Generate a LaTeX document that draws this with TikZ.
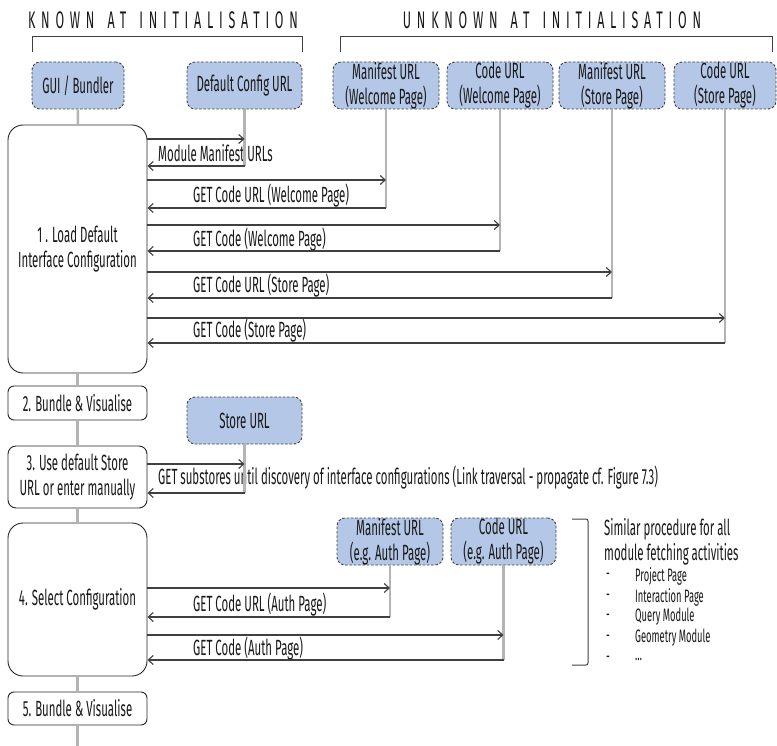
\documentclass[tikz,border=0pt]{standalone}
\usepackage{fontspec}
\setmainfont{Fira Sans}[FakeStretch=0.52]
\usetikzlibrary{arrows.meta}

\definecolor{ink}{HTML}{404040}
\definecolor{lifegray}{HTML}{B4B4B4}
\definecolor{urlfill}{HTML}{B4C7E7}

\tikzset{
  base/.style={font=\fontsize{22}{25}\selectfont, text=black!90, inner sep=0pt},
  title/.style={font=\fontsize{24}{26}\selectfont\addfontfeature{LetterSpace=24}, text=black!90, inner sep=0pt},
  urlbox/.style={base, draw=ink, line width=0.9pt, dash pattern=on 2.5pt off 1.8pt,
    fill=urlfill, rounded corners=8pt, align=center, minimum height=47pt},
  stepbox/.style={base, draw=black!85, line width=0.9pt, fill=white,
    align=center, minimum width=139pt},
  lifeline/.style={draw=lifegray, line width=2.5pt},
  msg/.style={draw=ink, line width=1.1pt, -{Straight Barb[length=5pt,width=9pt,line width=1.1pt]}},
  brk/.style={draw=ink, line width=1pt},
  lbl/.style={base, anchor=west},
  small/.style={font=\fontsize{18}{20}\selectfont, text=black!90, inner sep=0pt, anchor=west},
}

\begin{document}
\begin{tikzpicture}[x=1pt,y=-1pt]
\useasboundingbox (0,0) rectangle (777,746);

% headings and their brackets
\node[title] (known) at (163,20) {KNOWN\hspace{4pt} AT\hspace{4pt} INITIALISATION};
\node[title] (unknown) at (552,20) {UNKNOWN\hspace{4pt} AT\hspace{4pt} INITIALISATION};
\draw[brk] (32,52) -- (32,37) -- (302,37) -- (302,52);
\draw[brk] (340,52) -- (340,37) -- (772,37) -- (772,52);

% participants
\node[urlbox, minimum width=92pt]  (gui)  at (78,85.5)    {GUI / Bundler};
\node[urlbox, minimum width=115pt] (dcfg) at (244.5,85.5) {Default Config URL};
\node[urlbox, minimum width=106pt] (mw)   at (386,85.5)   {Manifest URL\\(Welcome Page)};
\node[urlbox, minimum width=106pt] (cw)   at (500,85.5)   {Code URL\\(Welcome Page)};
\node[urlbox, minimum width=106pt] (ms)   at (612,85.5)   {Manifest URL\\(Store Page)};
\node[urlbox, minimum width=102pt] (cs)   at (725,85.5)   {Code URL\\(Store Page)};
\node[urlbox, minimum width=115pt] (store) at (244.5,420.5) {Store URL};
\node[urlbox, minimum width=106pt] (ma)   at (390,541.5)  {Manifest URL\\(e.g. Auth Page)};
\node[urlbox, minimum width=105pt] (ca)   at (503.5,541.5) {Code URL\\(e.g. Auth Page)};

% process steps
\node[stepbox, minimum height=248pt, rounded corners=15pt] (s1) at (77.5,249)
  {1 . Load Default\\Interface Configuration};
\node[stepbox, minimum height=34pt, rounded corners=6pt] (s2) at (77.5,403) {2. Bundle \& Visualise};
\node[stepbox, minimum height=62pt, rounded corners=8pt] (s3) at (77.5,477)
  {3. Use default Store\\URL or enter manually};
\node[stepbox, minimum height=153pt, rounded corners=15pt] (s4) at (77.5,599.5) {4. Select Configuration};
\node[stepbox, minimum height=33pt, rounded corners=6pt] (s5) at (77.5,708.5) {5. Bundle \& Visualise};

% message labels
\node[lbl] (l0) at (158,153) {Module Manifest URLs};
\node[lbl] (l1) at (193,196) {GET Code URL (Welcome Page)};
\node[lbl] (l2) at (193,240) {GET Code (Welcome Page)};
\node[lbl] (l3) at (193,286) {GET Code URL (Store Page)};
\node[lbl] (l4) at (193,331) {GET Code (Store Page)};
\node[lbl] (l5) at (158,478) {GET substores until discovery of interface configurations (Link traversal - propagate cf. Figure 7.3)};
\node[lbl] (l6) at (193,605) {GET Code URL (Auth Page)};
\node[lbl] (l7) at (193,649) {GET Code (Auth Page)};

% lifeline ends
\coordinate (dcfg-end) at (dcfg.south |- 0,166);
\coordinate (mw-end)   at (mw.south |- 0,208);
\coordinate (cw-end)   at (cw.south |- 0,251);
\coordinate (ms-end)   at (ms.south |- 0,298);
\coordinate (cs-end)   at (cs.south |- 0,343);
\coordinate (store-end) at (store.south |- 0,493);
\coordinate (ma-end)   at (ma.south |- 0,617);
\coordinate (ca-end)   at (ca.south |- 0,660);
\coordinate (gui-end)  at (s5.south |- 0,746);

% lifelines
\draw[lifeline] (gui) -- (s1);
\draw[lifeline] (s1) -- (s2);
\draw[lifeline] (s2) -- (s3);
\draw[lifeline] (s3) -- (s4);
\draw[lifeline] (s4) -- (s5);
\draw[lifeline] (s5) -- (gui-end);
\foreach \p in {dcfg,mw,cw,ms,cs,store,ma,ca}
  \draw[lifeline] (\p) -- (\p-end);

% requests and responses
\draw[msg] (s1.east |- 0,139) -- (dcfg.south |- 0,139);
\draw[msg] (dcfg-end) -- (s1.east |- dcfg-end);
\draw[msg] (s1.east |- 0,180) -- (mw.south |- 0,180);
\draw[msg] (mw-end) -- (s1.east |- mw-end);
\draw[msg] (s1.east |- 0,225) -- (cw.south |- 0,225);
\draw[msg] (cw-end) -- (s1.east |- cw-end);
\draw[msg] (s1.east |- 0,272) -- (ms.south |- 0,272);
\draw[msg] (ms-end) -- (s1.east |- ms-end);
\draw[msg] (s1.east |- 0,318) -- (cs.south |- 0,318);
\draw[msg] (cs-end) -- (s1.east |- cs-end);

\draw[msg] (s3.east |- 0,464) -- (store.south |- 0,464);
\draw[msg] (store-end) -- (s3.east |- store-end);

\draw[msg] (s4.east |- 0,588) -- (ma.south |- 0,588);
\draw[msg] (ma-end) -- (s4.east |- ma-end);
\draw[msg] (s4.east |- 0,635) -- (ca.south |- 0,635);
\draw[msg] (ca-end) -- (s4.east |- ca-end);

% note on the other modules
\draw[brk, rounded corners=2pt] (572,519) -- (588,519) -- (588,665) -- (572,665);
\node[lbl] (n1) at (604,529) {Similar procedure for all};
\node[lbl] (n2) at (604,554) {module fetching activities};
\foreach \y/\t [count=\i] in {576/Project Page, 597/Interaction Page, 617/Query Module, 638/Geometry Module, 659/\ldots} {
  \node[small] (d\i) at (606,\y) {-};
  \node[small] (i\i) at (635,\y) {\t};
}
\end{tikzpicture}
\end{document}
